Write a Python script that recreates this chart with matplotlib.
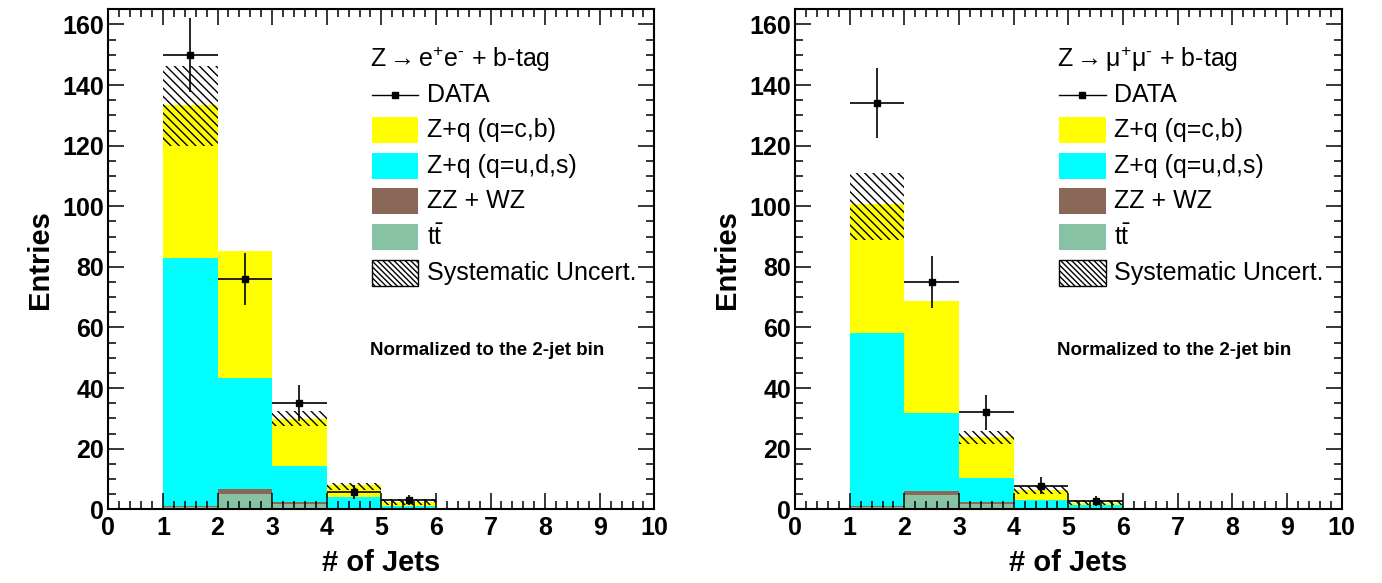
import matplotlib
matplotlib.use('Agg')
import matplotlib.pyplot as plt
from matplotlib.patches import Rectangle
from matplotlib.lines import Line2D
from matplotlib.ticker import MultipleLocator
import numpy as np

plt.rcParams['font.family'] = ['Liberation Sans', 'DejaVu Sans']
plt.rcParams['mathtext.fontset'] = 'custom'
plt.rcParams['mathtext.rm'] = 'Liberation Sans'
plt.rcParams['mathtext.it'] = 'Liberation Sans:italic'
plt.rcParams['mathtext.bf'] = 'Liberation Sans:bold'
plt.rcParams['hatch.linewidth'] = 1.0

# bins 0-1 ... 9-10
bin_edges = np.arange(0, 11)
data_x = [1.5, 2.5, 3.5, 4.5, 5.5]

# Z -> ee
ee_ttbar = [0, 0.8, 4.9, 1.9, 0.4, 0.1, 0, 0, 0, 0]
ee_dib = [0, 0.4, 1.7, 0.6, 0.1, 0.05, 0, 0, 0, 0]
ee_light = [0, 81.8, 36.7, 11.8, 3.6, 0.85, 0.3, 0, 0, 0]
ee_heavy = [0, 50.3, 42.0, 15.4, 3.8, 1.5, 0.1, 0, 0, 0]
ee_sys_lo = [0, 120.0, 0, 27.5, 6.5, 1.5, 0, 0, 0, 0]
ee_sys_hi = [0, 146.2, 0, 32.3, 8.7, 3.4, 0, 0, 0, 0]
ee_data = [150, 76, 35, 5.7, 3.0]
ee_err = [12.2, 8.7, 6.0, 2.4, 1.7]

# Z -> mumu
mm_ttbar = [0, 0.7, 4.6, 1.9, 0.4, 0.1, 0, 0, 0, 0]
mm_dib = [0, 0.4, 1.3, 0.4, 0.1, 0, 0, 0, 0, 0]
mm_light = [0, 57.1, 25.9, 8.0, 2.5, 1.2, 0, 0, 0, 0]
mm_heavy = [0, 42.5, 37.0, 13.6, 3.5, 0.9, 0.5, 0, 0, 0]
mm_sys_lo = [0, 89.0, 0, 21.5, 5.2, 1.3, 0, 0, 0, 0]
mm_sys_hi = [0, 111.0, 0, 25.8, 7.8, 3.0, 0, 0, 0, 0]
mm_data = [134, 75, 32, 7.7, 2.7]
mm_err = [11.5, 8.6, 5.7, 2.8, 1.7]

c_heavy = '#ffff00'
c_light = '#00ffff'
c_dib = '#8a6858'
c_tt = '#87c2a5'


def draw_panel(ax, ttbar, dib, light, heavy, sys_lo, sys_hi, data, err, title):
    x = bin_edges[:-1] + 0.5
    bottom = np.zeros(len(x))
    for vals, col in [(ttbar, c_tt), (dib, c_dib), (light, c_light), (heavy, c_heavy)]:
        vals = np.array(vals)
        ax.bar(x, vals, width=1, bottom=bottom, color=col, linewidth=0)
        bottom = bottom + vals
    lo = np.array(sys_lo)
    hi = np.array(sys_hi)
    ax.bar(x, hi - lo, width=1, bottom=lo, color='none', edgecolor='black',
           hatch='\\\\\\\\', linewidth=0)
    ax.errorbar(data_x, data, yerr=err, xerr=0.5, fmt='s', color='black',
                ms=5, elinewidth=1.2, capsize=0)

    ax.set_xlim(0, 10)
    ax.set_ylim(0, 165)
    ax.xaxis.set_major_locator(MultipleLocator(1))
    ax.xaxis.set_minor_locator(MultipleLocator(0.2))
    ax.yaxis.set_major_locator(MultipleLocator(20))
    ax.yaxis.set_minor_locator(MultipleLocator(5))
    ax.tick_params(which='both', direction='in', top=True, right=True, width=1.1)
    ax.tick_params(which='major', length=11.5)
    ax.tick_params(which='minor', length=5.5)
    ax.tick_params(axis='x', labelsize=18, pad=5)
    ax.tick_params(axis='y', labelsize=18, pad=3)
    for lab in ax.get_xticklabels() + ax.get_yticklabels():
        lab.set_fontweight('bold')
    for sp in ax.spines.values():
        sp.set_linewidth(1.5)
    ax.set_xlabel('# of Jets', fontsize=21, fontweight='bold', labelpad=6)
    ax.set_ylabel('Entries', fontsize=21, fontweight='bold', labelpad=6)

    # legend
    bx, bw, bh = 0.483, 0.085, 0.052
    tx = 0.584
    fs = 18
    ax.text(0.479, 0.899, title, transform=ax.transAxes, fontsize=fs, va='center', ha='left')
    ax.add_line(Line2D([bx, bx + bw], [0.829, 0.829], transform=ax.transAxes, color='black',
                       lw=1, clip_on=False))
    ax.add_line(Line2D([bx + bw / 2], [0.829], transform=ax.transAxes, color='black',
                       marker='s', ms=4, clip_on=False))
    ax.text(tx, 0.829, 'DATA', transform=ax.transAxes, fontsize=fs, va='center', ha='left')
    rows = [(c_heavy, 'Z+q (q=c,b)', 0.758), (c_light, 'Z+q (q=u,d,s)', 0.687),
            (c_dib, 'ZZ + WZ', 0.616), (c_tt, r't$\bar{\mathrm{t}}$', 0.545)]
    for col, lab, yc in rows:
        ax.add_patch(Rectangle((bx, yc - bh / 2), bw, bh, transform=ax.transAxes,
                               facecolor=col, edgecolor='none', clip_on=False))
        ax.text(tx, yc, lab, transform=ax.transAxes, fontsize=fs, va='center', ha='left')
    ax.add_patch(Rectangle((bx, 0.473 - bh / 2), bw, bh, transform=ax.transAxes,
                           facecolor='white', edgecolor='black', hatch='\\\\\\\\\\\\', lw=1,
                           clip_on=False))
    ax.text(tx, 0.473, 'Systematic Uncert.', transform=ax.transAxes, fontsize=fs,
            va='center', ha='left')
    ax.text(0.479, 0.317, 'Normalized to the 2-jet bin', transform=ax.transAxes,
            fontsize=13.5, fontweight='bold', va='center', ha='left')


fig = plt.figure(figsize=(13.82, 5.83), dpi=100)
ax1 = fig.add_axes([0.0784, 0.1264, 0.3951, 0.8576])
ax2 = fig.add_axes([0.5753, 0.1264, 0.3956, 0.8576])

draw_panel(ax1, ee_ttbar, ee_dib, ee_light, ee_heavy, ee_sys_lo, ee_sys_hi,
           ee_data, ee_err, r'Z$\rightarrow$e$^{+}$e$^{\text{-}}$ + b-tag')
draw_panel(ax2, mm_ttbar, mm_dib, mm_light, mm_heavy, mm_sys_lo, mm_sys_hi,
           mm_data, mm_err, r'Z$\rightarrow$μ$^{+}$μ$^{\text{-}}$ + b-tag')

fig.savefig('out.png', dpi=100)
